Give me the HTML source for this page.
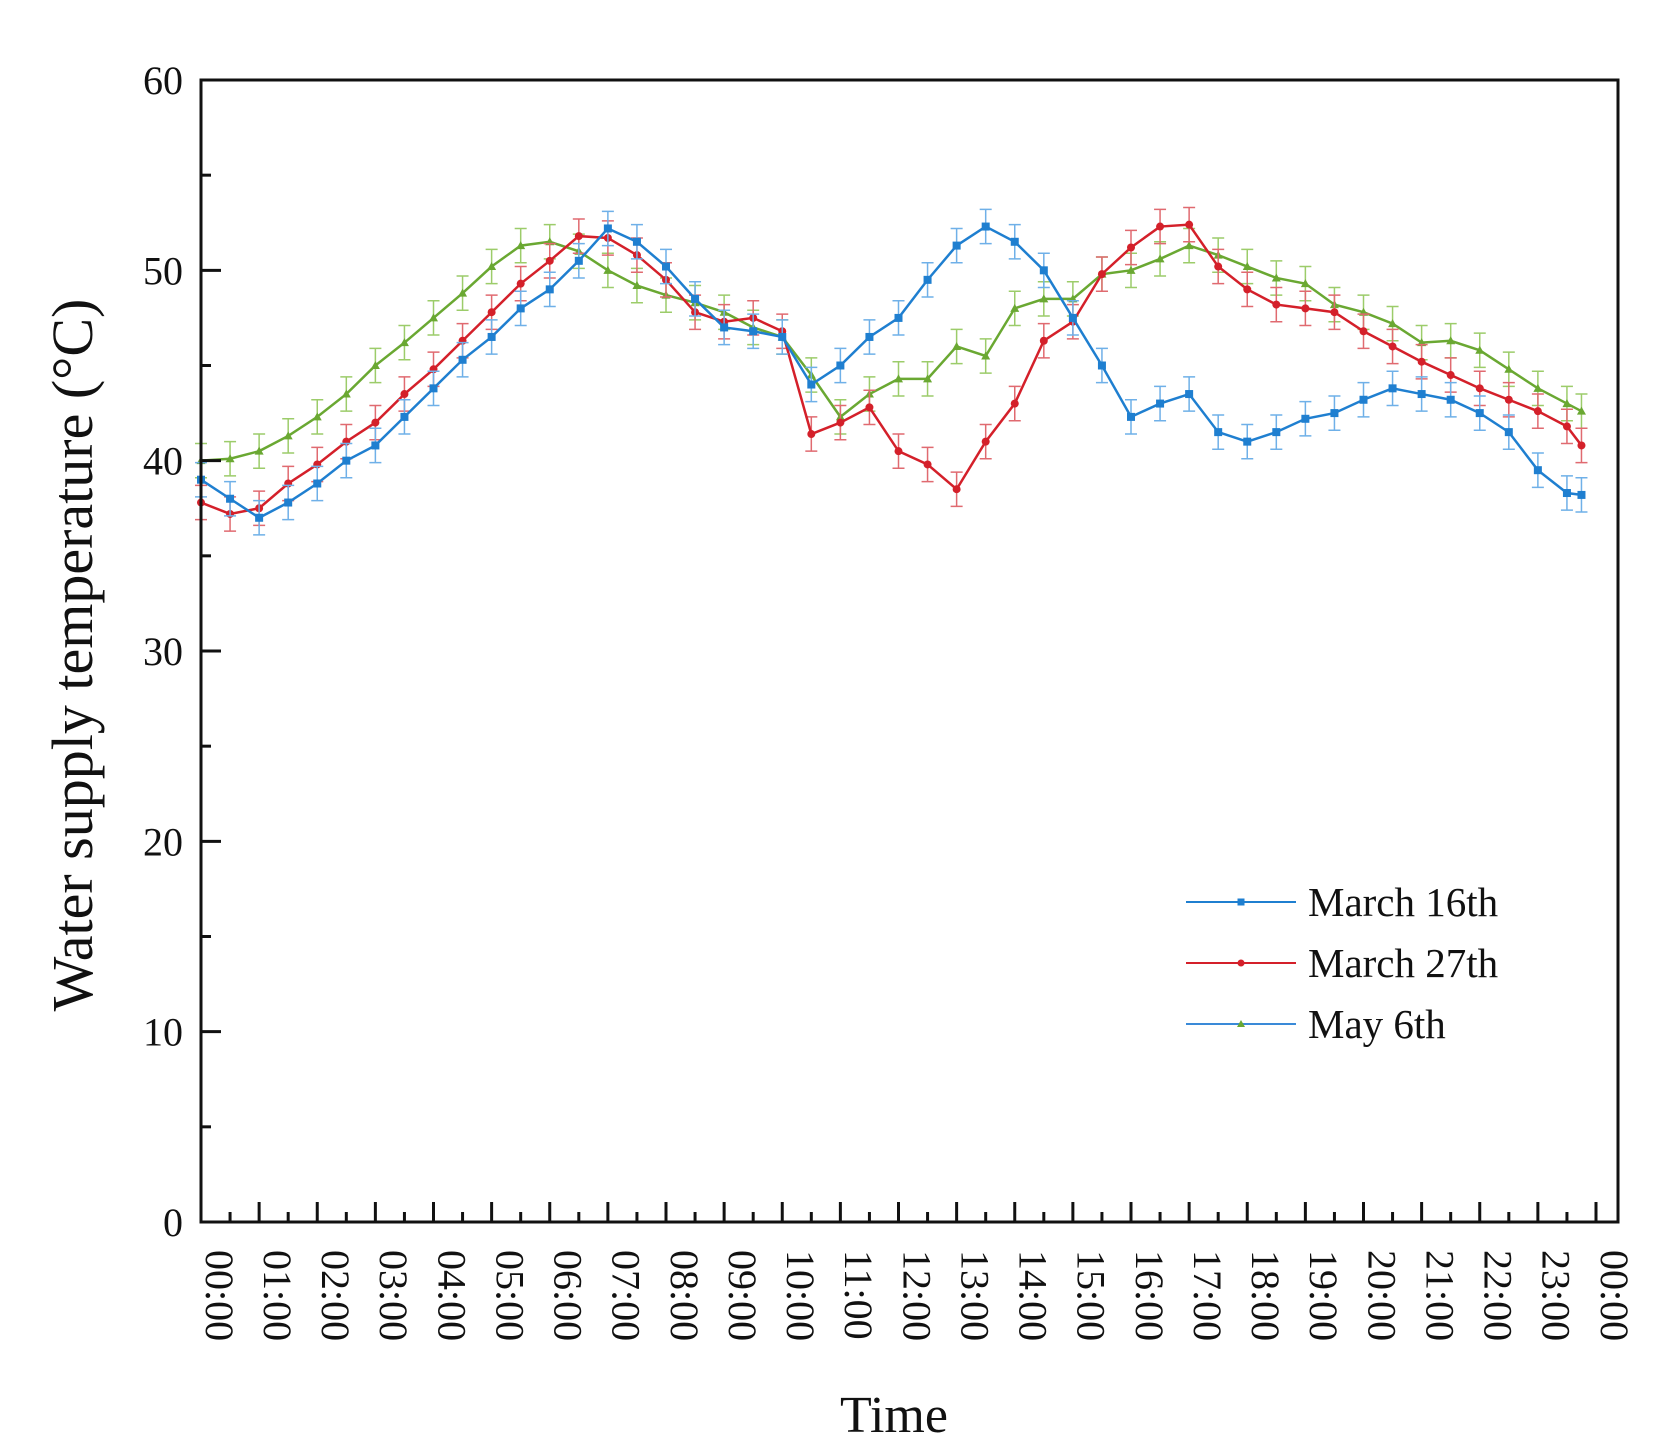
<!DOCTYPE html>
<html><head><meta charset="utf-8"><style>
html,body{margin:0;padding:0;background:#fff;}
svg{display:block;font-family:"Liberation Serif",serif;}
</style></head><body>
<svg id="chart" width="1660" height="1453" viewBox="0 0 1660 1453">
<g id="plot"></g>
<g id="axes"></g>
<g id="legend"></g>
</svg>
<script>
const times = [0,0.5,1,1.5,2,2.5,3,3.5,4,4.5,5,5.5,6,6.5,7,7.5,8,8.5,9,9.5,10,10.5,11,11.5,12,12.5,13,13.5,14,14.5,15,15.5,16,16.5,17,17.5,18,18.5,19,19.5,20,20.5,21,21.5,22,22.5,23,23.5,23.75];
const march16 = [39,38,37,37.8,38.8,40,40.8,42.3,43.8,45.3,46.5,48,49,50.5,52.2,51.5,50.2,48.5,47,46.8,46.5,44,45,46.5,47.5,49.5,51.3,52.3,51.5,50,47.5,45,42.3,43,43.5,41.5,41,41.5,42.2,42.5,43.2,43.8,43.5,43.2,42.5,41.5,39.5,38.3,38.2];
const march27 = [37.8,37.2,37.5,38.8,39.8,41,42,43.5,44.8,46.3,47.8,49.3,50.5,51.8,51.7,50.8,49.5,47.8,47.3,47.5,46.8,41.4,42,42.8,40.5,39.8,38.5,41,43,46.3,47.3,49.8,51.2,52.3,52.4,50.2,49,48.2,48,47.8,46.8,46,45.2,44.5,43.8,43.2,42.6,41.8,40.8];
const may6 = [40,40.1,40.5,41.3,42.3,43.5,45,46.2,47.5,48.8,50.2,51.3,51.5,51,50,49.2,48.7,48.3,47.8,47,46.5,44.5,42.3,43.5,44.3,44.3,46,45.5,48,48.5,48.5,49.8,50,50.6,51.3,50.8,50.2,49.6,49.3,48.2,47.8,47.2,46.2,46.3,45.8,44.8,43.8,43,42.6];
const errors = [0.9,0.9,0.9];
const seriesNames = ["March 16th","March 27th","May 6th"];
const yTicks = [0,10,20,30,40,50,60];
const xTickLabels = ["00:00","01:00","02:00","03:00","04:00","05:00","06:00","07:00","08:00","09:00","10:00","11:00","12:00","13:00","14:00","15:00","16:00","17:00","18:00","19:00","20:00","21:00","22:00","23:00","00:00"];

const NS="http://www.w3.org/2000/svg";
const L=201,R=1618,T=80,B=1222,X0=201,X1=1596;
const xs=h=>X0+(X1-X0)*h/24;
const ys=v=>B-(B-T)*v/60;
function mk(tag,attrs,parent){const e=document.createElementNS(NS,tag);for(const k in attrs)e.setAttribute(k,attrs[k]);parent.appendChild(e);return e;}
const plot=document.getElementById('plot'),axes=document.getElementById('axes'),legend=document.getElementById('legend');
const colors=["#1f7fd0","#d4202a","#6aa832"];
const data=[march16,march27,may6];
const ebColors=["#6fb0e8","#e06a70","#9ccc6a"];
[2,1,0].forEach(si=>{
  const g=mk('g',{},plot);
  
  
  const vals=data[si];
  vals.forEach((v,i)=>{
    const x=xs(times[i]),e=errors[si];
    const eb=mk('path',{d:`M${x},${ys(v-e)}V${ys(v+e)}M${x-6},${ys(v-e)}h12M${x-6},${ys(v+e)}h12`,stroke:ebColors[si],'stroke-width':1.5,fill:'none'},g);
    
    
  });
  const pts=vals.map((v,i)=>xs(times[i])+','+ys(v)).join(' ');
  const line=mk('polyline',{points:pts,fill:'none',stroke:colors[si],'stroke-width':2.5},g);
  
  
  vals.forEach((v,i)=>{
    let m;
    if(si===2){const x=xs(times[i]),y=ys(v);m=mk('polygon',{points:`${x},${y-4.5} ${x-4.5},${y+3.5} ${x+4.5},${y+3.5}`,fill:colors[si]},g);}
    else m=mk(si===0?'rect':'circle',si===0?{x:xs(times[i])-4,y:ys(v)-4,width:8,height:8,fill:colors[si]}:{cx:xs(times[i]),cy:ys(v),r:4,fill:colors[si]},g);
    
    
  });
});
const fr=mk('rect',{x:L,y:T,width:R-L,height:B-T,fill:'none',stroke:'#111','stroke-width':3},axes);


for(let v=0;v<=60;v+=5){
  const major=v%10===0;
  const t=mk('line',{x1:L,x2:L+(major?20:10),y1:ys(v),y2:ys(v),stroke:'#111','stroke-width':3},axes);
  
  
}
yTicks.forEach(v=>{
  const t=mk('text',{x:L-18,y:ys(v)+14,'text-anchor':'end','font-size':40,fill:'#111'},axes);
  t.textContent=v;
  
  
});
for(let h=0;h<=24;h+=0.5){
  const major=h%1===0;
  const t=mk('line',{x1:xs(h),x2:xs(h),y1:B,y2:B-(major?20:10),stroke:'#111','stroke-width':3},axes);
  
  
}
xTickLabels.forEach((s,i)=>{
  const x=xs(i),y=1250;
  const t=mk('text',{x:x,y:y,transform:`rotate(90 ${x} ${y})`,'font-size':40,fill:'#111',dy:'-0.35em'},axes);
  t.setAttribute('dominant-baseline','middle');
  t.textContent=s;
  
  
});
const yl=mk('text',{x:0,y:0,transform:'translate(92 655) rotate(-90)','text-anchor':'middle','font-size':58,fill:'#111'},axes);
yl.textContent='Water supply temperature (°C)';


const xl=mk('text',{x:894,y:1432,'text-anchor':'middle','font-size':52,fill:'#111'},axes);
xl.textContent='Time';


const legY=[902,963,1024];
const legLine=["#1f7fd0","#d4202a","#3a8ad8"];
seriesNames.forEach((n,i)=>{
  const g=mk('g',{},legend);
  
  
  mk('line',{x1:1186,x2:1296,y1:legY[i],y2:legY[i],stroke:legLine[i],'stroke-width':2},g);
  if(i===2)mk('polygon',{points:`1241,${legY[i]-4} 1237,${legY[i]+3} 1245,${legY[i]+3}`,fill:colors[2]},g);
  else if(i===0)mk('rect',{x:1237.5,y:legY[i]-3.5,width:7,height:7,fill:colors[0]},g);
  else mk('circle',{cx:1241,cy:legY[i],r:3.5,fill:colors[1]},g);
  const t=mk('text',{x:1308,y:legY[i]+14,'font-size':41,fill:'#111'},g);
  t.textContent=n;
});
</script>
</body></html>
